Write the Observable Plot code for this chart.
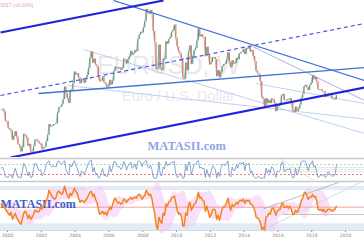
<!DOCTYPE html>
<html><head><meta charset="utf-8">
<script src="https://cdn.jsdelivr.net/npm/d3@7"></script>
<script src="https://cdn.jsdelivr.net/npm/@observablehq/plot@0.6"></script>
<style>
html,body{margin:0;padding:0;background:#fff;}
#c{position:relative;width:364px;height:240px;overflow:hidden;background:#fff;}
#c > svg{position:absolute;left:0;overflow:visible;}
</style></head><body><div id="c"></div>
<script>
// ---------- data (monthly, Aug 1999 .. Jun 2019) ----------
const firstYear = 1999, firstMonth = 7; // August 1999 (0-based month)
const closes = [
 1.065,1.068,1.055,1.008,1.005,
 0.970,0.965,0.957,0.910,0.930,0.952,0.925,0.888,0.880,0.850,0.870,0.940,
 0.933,0.922,0.880,0.888,0.850,0.849,0.875,0.910,0.911,0.902,0.893,0.890,
 0.862,0.869,0.873,0.901,0.933,0.990,0.978,0.981,0.988,0.990,0.994,1.048,
 1.077,1.078,1.091,1.117,1.182,1.150,1.123,1.099,1.166,1.160,1.199,1.259,
 1.245,1.250,1.230,1.200,1.222,1.218,1.202,1.218,1.242,1.276,1.330,1.362,
 1.305,1.325,1.296,1.287,1.231,1.210,1.212,1.234,1.204,1.200,1.180,1.185,
 1.216,1.193,1.212,1.262,1.284,1.279,1.277,1.281,1.268,1.277,1.325,1.320,
 1.301,1.323,1.335,1.365,1.346,1.353,1.369,1.363,1.426,1.448,1.463,1.459,
 1.485,1.518,1.579,1.561,1.555,1.575,1.560,1.467,1.409,1.273,1.270,1.397,
 1.280,1.266,1.325,1.323,1.414,1.403,1.425,1.434,1.464,1.472,1.500,1.432,
 1.387,1.363,1.351,1.330,1.229,1.223,1.305,1.267,1.362,1.393,1.299,1.338,
 1.369,1.380,1.418,1.481,1.440,1.450,1.438,1.438,1.339,1.386,1.345,1.296,
 1.308,1.334,1.334,1.323,1.236,1.266,1.230,1.258,1.286,1.298,1.299,1.320,
 1.358,1.306,1.282,1.317,1.300,1.301,1.330,1.322,1.352,1.358,1.359,1.375,
 1.349,1.381,1.377,1.387,1.363,1.369,1.339,1.313,1.263,1.253,1.245,1.210,
 1.129,1.120,1.073,1.122,1.098,1.114,1.098,1.121,1.117,1.100,1.057,1.086,
 1.083,1.087,1.138,1.145,1.113,1.111,1.117,1.115,1.123,1.098,1.059,1.052,
 1.080,1.058,1.065,1.090,1.124,1.143,1.184,1.191,1.181,1.164,1.190,1.201,
 1.241,1.220,1.232,1.208,1.169,1.168,1.169,1.160,1.160,1.131,1.132,1.146,
 1.145,1.137,1.122,1.121,1.117,1.137
];
const rsiValues = [
 55,60,45,22,20,
 18,25,30,15,35,55,35,18,20,15,40,75,
 65,50,25,40,18,20,55,75,72,55,45,50,
 25,35,45,70,80,85,65,60,65,62,60,82,
 84,75,70,78,85,50,35,28,72,60,75,85,
 68,55,35,22,45,40,30,45,60,78,85,86,
 40,58,30,35,15,18,35,55,25,28,20,35,
 65,40,55,80,82,65,60,62,50,58,82,70,
 48,65,70,80,55,60,72,50,82,84,80,62,
 75,82,86,60,55,68,50,18,15,14,30,80,
 28,25,60,52,82,65,72,70,80,78,82,30,
 18,22,35,30,14,18,70,45,80,78,28,50,
 70,72,80,86,55,60,52,55,18,50,30,18,
 40,65,60,50,15,40,22,55,72,70,65,75,
 84,30,20,60,45,48,68,55,75,78,72,80,
 45,75,70,75,35,45,25,18,15,20,22,15,
 14,18,15,55,35,50,35,62,55,40,18,45,
 40,45,78,80,40,45,52,50,55,30,16,18,
 55,30,38,62,80,82,86,82,65,45,68,72,
 85,60,65,40,18,22,30,25,30,18,22,40,
 38,30,22,25,28,68
];
const oscValues = [
 3,1,2,-2,-4,
 -6,-8,-5,-12,-9,-6,-10,-13,-15,-17,-12,-6,
 -4,-6,-11,-8,-12,-10,-7,-3,-4,-5,-4,0,
 -2,1,3,7,10,17,14,11,9,8,10,15,
 16,14,13,15,21,16,12,9,14,12,15,19,
 16,14,9,5,7,6,5,7,9,12,15,16,
 11,13,8,5,-2,-7,-6,-4,-7,-5,-8,-4,
 0,-2,2,7,9,6,4,5,3,4,8,7,
 5,7,8,10,8,9,10,9,12,13,11,8,
 10,12,17,14,12,13,9,0,-6,-18,-22,-10,
 -14,-16,-6,-8,3,1,5,6,9,10,11,4,
 -3,-7,-6,-9,-19,-18,-6,-8,2,5,-3,0,
 3,4,8,15,9,10,7,6,-4,1,-4,-10,
 -8,-3,-2,-3,-12,-8,-13,-7,-1,0,1,4,
 9,2,-3,3,1,2,5,3,6,7,6,8,
 4,7,6,7,3,3,0,-3,-10,-11,-12,-15,
 -22,-20,-23,-10,-9,-6,-7,-2,-1,-3,-8,-4,
 -3,-2,3,4,0,0,1,-1,1,-2,-7,-7,
 -3,-5,-3,1,6,9,14,15,12,8,10,10,
 13,10,11,7,-2,-3,-2,-4,-2,-5,-4,-2,
 -2,-3,-4,-3,-2,1
];
const yearTicks = [2000,2002,2004,2006,2008,2010,2012,2014,2016,2018,2020];
const rsiLevels = {upper: 70, lower: 30, grid: [58, 50, 42], top: 94, bottom: 2};
const oscLevels = {zero: 0, bandTop: [16.7, 20.7], bandBottom: [-23.3, -16.6], flat: -7.3};
// trend lines in (year, price)
const channelLines = [
 {x1:1999.586, y1:1.4615, x2:2009.231, y2:1.6256},
 {x1:2000.178, y1:0.8205, x2:2021.12, y2:1.1795}
];
const channelMid = [{x1:1999.586, y1:1.1385, x2:2021.12, y2:1.5077}];
const mainLines = [
 {x1:2006.272, y1:1.6256, x2:2021.12, y2:1.2154},
 {x1:2001.834, y1:1.1487, x2:2021.12, y2:1.2820}
];
const lightLines = [
 {x1:2004.50, y1:1.3744, x2:2021.12, y2:0.9436},
 {x1:2003.55, y1:1.1897, x2:2021.12, y2:1.0174},
 {x1:2014.67, y1:1.2000, x2:2021.12, y2:1.0974}
];
const lavenderLines = [{x1:2014.50, y1:1.3897, x2:2021.12, y2:1.1128}];
const rsiDiag = [{x1:2016.15, y1:92.8, x2:2018.11, y2:6}];
const oscDiag = [
 {x1:2015.15, y1:-1.6, x2:2019.63, y2:25, c:"#b4b4b4"},
 {x1:2015.27, y1:-21.3, x2:2021.12, y2:26.7, c:"#d6d6d6"}
];

// ---------- derived tables ----------
const t = i => firstYear + (firstMonth + i + 0.5) / 12;
const candles = closes.map((c, i) => ({t: t(i), open: i ? closes[i-1] : c, close: c}));
const rsi = rsiValues.map((v, i) => ({t: t(i), v}));
const osc = oscValues.map((v, i) => ({t: t(i), v}));
const band = oscValues.map((v, i) => {
  const w = oscValues.slice(Math.max(0, i - 9), i + 1);
  const m = d3.mean(w), s = d3.deviation(w) || 0;
  return {t: t(i), lo: m - 1.7 * s, hi: m + 1.7 * s};
});
const xDomain = [1999.586, 2021.12];
const C = document.getElementById("c");
const serif = "'Liberation Serif','DejaVu Serif',serif";

// ---------- main price panel ----------
const main = Plot.plot({
  width: 364, height: 157, margin: 0,
  x: {domain: xDomain, axis: null},
  y: {domain: [0.8205, 1.6256], axis: null},
  style: {fontFamily: "'Liberation Sans',Arial,sans-serif", background: "transparent"},
  marks: [
    Plot.text(["EURUSD, W"], {frameAnchor: "top-left", dx: 168, dy: 73, lineAnchor: "bottom", textAnchor: "middle", fontSize: 25, fill: "#e8e8e8"}),
    Plot.text(["Euro / U.S. Dollar"], {frameAnchor: "top-left", dx: 178, dy: 100, lineAnchor: "bottom", textAnchor: "middle", fontSize: 14.5, fill: "#eaeaea"}),
    Plot.text(["MATASII.com"], {frameAnchor: "top-left", dx: 147, dy: 149, lineAnchor: "bottom", textAnchor: "start", fontSize: 12.5, fontWeight: "bold", fontFamily: serif, fill: "#8ea7e4"}),
    Plot.link(lightLines, {x1: "x1", y1: "y1", x2: "x2", y2: "y2", stroke: "#aec4ee", strokeWidth: 0.8, clip: true}),
    Plot.link(lavenderLines, {x1: "x1", y1: "y1", x2: "x2", y2: "y2", stroke: "#a9a2e6", strokeWidth: 0.9, clip: true}),
    Plot.line(candles, {x: "t", y: "close", stroke: "#707070", strokeWidth: 0.6, strokeOpacity: 0.8}),
    Plot.ruleX(candles, {x: "t", y1: "open", y2: "close", stroke: d => d.close >= d.open ? "#5f9f7f" : "#d37a6a", strokeWidth: 1.2}),
    Plot.link(mainLines, {x1: "x1", y1: "y1", x2: "x2", y2: "y2", stroke: "#3f74d8", strokeWidth: 1.3, clip: true}),
    Plot.link(channelMid, {x1: "x1", y1: "y1", x2: "x2", y2: "y2", stroke: "#4a58e6", strokeWidth: 1.2, strokeDasharray: "4,3", clip: true}),
    Plot.link(channelLines, {x1: "x1", y1: "y1", x2: "x2", y2: "y2", stroke: "#2323dd", strokeWidth: 2.2, clip: true}),
    Plot.text(["0017 (+0.00%)"], {frameAnchor: "top-left", dx: 0, dy: 6.5, lineAnchor: "bottom", textAnchor: "start", fontSize: 5, fill: "#dba4a4"})
  ]
});
main.style.top = "0px";
C.appendChild(main);

// ---------- RSI panel ----------
const rsiPlot = Plot.plot({
  width: 364, height: 25, marginTop: 1, marginBottom: 1, marginLeft: 0, marginRight: 0,
  x: {domain: xDomain, axis: null},
  y: {domain: [rsiLevels.bottom, rsiLevels.top], axis: null},
  style: {background: "transparent"},
  marks: [
    Plot.ruleY(rsiLevels.grid, {x1: 2016.3, x2: xDomain[1], stroke: "#dedede", strokeWidth: 0.7}),
    Plot.ruleY([rsiLevels.upper], {stroke: "#86c986", strokeWidth: 0.7, strokeDasharray: "2,2"}),
    Plot.ruleY([rsiLevels.lower], {stroke: "#ec5c5c", strokeWidth: 0.8, strokeDasharray: "2,2"}),
    Plot.link(rsiDiag, {x1: "x1", y1: "y1", x2: "x2", y2: "y2", stroke: "#d8d8d8", strokeWidth: 0.8, clip: true}),
    Plot.line(rsi, {x: "t", y: "v", stroke: "#6a8fc6", strokeWidth: 0.8}),
    Plot.ruleY([rsiLevels.top, rsiLevels.bottom], {stroke: "#c9c9c9", strokeWidth: 1.4})
  ]
});
rsiPlot.style.top = "157px";
C.appendChild(rsiPlot);

// ---------- oscillator panel ----------
const oscPlot = Plot.plot({
  width: 364, height: 58, marginTop: 0, marginBottom: 10, marginLeft: 0, marginRight: 0,
  x: {domain: xDomain, ticks: yearTicks, tickFormat: d => String(d), tickSize: 2, tickPadding: 1.5, label: null},
  y: {domain: [-23.3, 24.7], axis: null},
  style: {fontSize: "4.6px", fontFamily: "'DejaVu Sans',sans-serif", color: "#8a8a8a", background: "transparent"},
  marks: [
    Plot.rectY([oscLevels.bandTop], {y1: d => d[0], y2: d => d[1], fill: "#e3ebf8"}),
    Plot.rectY([oscLevels.bandBottom], {y1: d => d[0], y2: d => d[1], fill: "#e3ebf8"}),
    Plot.areaY(band, {x: "t", y1: "lo", y2: "hi", fill: "#f3c2f1", fillOpacity: 0.5, curve: "basis"}),
    Plot.ruleY([oscLevels.zero], {stroke: "#f08a8a", strokeWidth: 0.8}),
    Plot.ruleY([oscLevels.flat], {x1: 2016.3, x2: xDomain[1], stroke: "#b8b8b8", strokeWidth: 0.8}),
    Plot.link(oscDiag, {x1: "x1", y1: "y1", x2: "x2", y2: "y2", stroke: "c", strokeWidth: 0.9, clip: true}),
    Plot.text(["MATASII.com"], {frameAnchor: "top-left", dx: 0, dy: 25, lineAnchor: "bottom", textAnchor: "start", fontSize: 12, fontWeight: "bold", fontFamily: serif, fill: "#3d5ed4"}),
    Plot.line(osc, {x: "t", y: "v", stroke: "#f6841c", strokeWidth: 1.5}),
    Plot.ruleY([-23.3], {stroke: "#cfcfcf", strokeWidth: 0.8})
  ]
});
oscPlot.style.top = "182px";
C.appendChild(oscPlot);
</script>
</body></html>
